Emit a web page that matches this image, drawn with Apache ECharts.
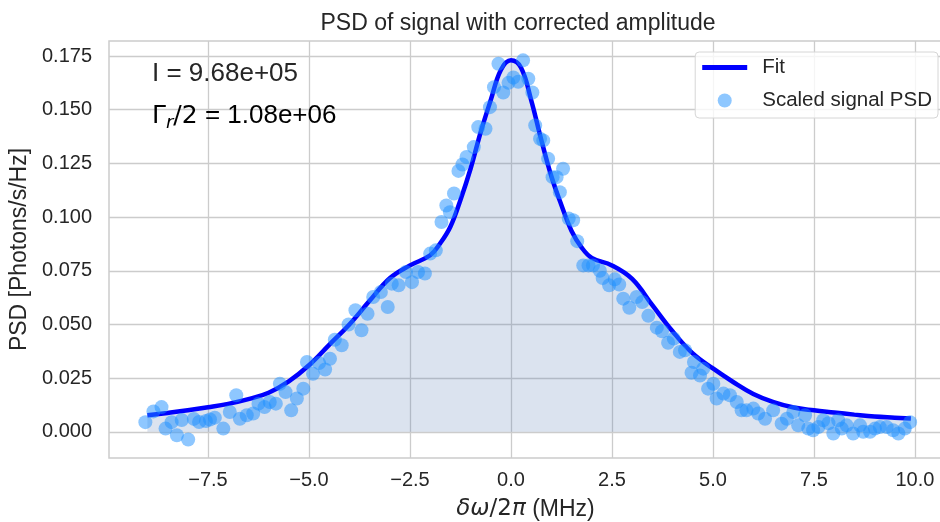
<!DOCTYPE html>
<html>
<head>
<meta charset="utf-8">
<script src="https://cdn.jsdelivr.net/npm/echarts@6/dist/echarts.min.js"></script>
<style>
html,body{margin:0;padding:0;background:#fff;}
#c{width:940px;height:522px;}
</style>
</head>
<body>
<div id="c"></div>
<script>
// ---- data ----
const xTicks = [-7.5, -5, -2.5, 0, 2.5, 5, 7.5, 10];
const xTickLabels = ['\u22127.5', '\u22125.0', '\u22122.5', '0.0', '2.5', '5.0', '7.5', '10.0'];
const yTicks = [0, 0.025, 0.05, 0.075, 0.1, 0.125, 0.15, 0.175];
const yTickLabels = ['0.000', '0.025', '0.050', '0.075', '0.100', '0.125', '0.150', '0.175'];

const fitX = [-9.0, -8.5, -8.0, -7.5, -7.0, -6.5, -6.0, -5.5, -5.0, -4.5, -4.0, -3.5, -3.0, -2.5, -2.0, -1.75, -1.5, -1.25, -1.0, -0.75, -0.5, -0.25, 0.0, 0.25, 0.5, 0.75, 1.0, 1.25, 1.5, 1.75, 2.0, 2.5, 3.0, 3.5, 4.0, 4.5, 5.0, 5.5, 6.0, 6.5, 7.0, 7.5, 8.0, 8.5, 9.0, 9.5, 9.9];
const fitY = [0.0077, 0.0088, 0.0100, 0.0114, 0.0130, 0.0152, 0.0182, 0.0235, 0.0310, 0.0405, 0.0500, 0.0610, 0.0715, 0.0775, 0.0822, 0.0878, 0.0955, 0.1080, 0.1225, 0.1395, 0.1545, 0.1685, 0.1730, 0.1695, 0.1545, 0.1360, 0.1190, 0.1055, 0.0935, 0.0858, 0.0810, 0.0775, 0.0712, 0.0590, 0.0468, 0.0365, 0.0295, 0.0232, 0.0176, 0.0138, 0.0113, 0.0100, 0.0090, 0.0080, 0.0071, 0.0066, 0.0062];

const psdX = [-9.05, -8.85, -8.65, -8.55, -8.40, -8.27, -8.15, -7.99, -7.85, -7.72, -7.55, -7.45, -7.33, -7.12, -6.96, -6.80, -6.71, -6.54, -6.38, -6.25, -6.10, -5.97, -5.82, -5.72, -5.58, -5.44, -5.30, -5.14, -5.05, -4.90, -4.75, -4.60, -4.48, -4.36, -4.19, -4.02, -3.85, -3.70, -3.55, -3.41, -3.22, -3.05, -2.95, -2.78, -2.60, -2.45, -2.30, -2.13, -2.00, -1.86, -1.72, -1.60, -1.51, -1.41, -1.30, -1.20, -1.10, -0.92, -0.81, -0.63, -0.52, -0.42, -0.31, -0.19, -0.06, 0.06, 0.18, 0.30, 0.43, 0.53, 0.60, 0.72, 0.80, 0.92, 1.03, 1.13, 1.21, 1.29, 1.43, 1.54, 1.64, 1.79, 1.92, 2.03, 2.20, 2.27, 2.43, 2.57, 2.68, 2.78, 2.93, 3.11, 3.25, 3.40, 3.61, 3.74, 3.89, 4.03, 4.18, 4.31, 4.47, 4.53, 4.68, 4.76, 4.88, 5.01, 5.09, 5.26, 5.42, 5.59, 5.71, 5.83, 6.00, 6.12, 6.29, 6.49, 6.70, 6.83, 6.99, 7.11, 7.28, 7.36, 7.48, 7.61, 7.73, 7.86, 7.98, 8.10, 8.19, 8.31, 8.47, 8.64, 8.72, 8.89, 9.01, 9.13, 9.30, 9.46, 9.59, 9.75, 9.88];
const psdY = [0.0045, 0.0095, 0.0115, 0.0015, 0.0045, -0.0016, 0.0055, -0.0036, 0.0060, 0.0046, 0.0050, 0.0057, 0.0066, 0.0015, 0.0092, 0.0170, 0.0061, 0.0077, 0.0085, 0.0131, 0.0115, 0.0139, 0.0131, 0.0224, 0.0185, 0.0100, 0.0155, 0.0201, 0.0325, 0.0270, 0.0320, 0.0290, 0.0340, 0.0429, 0.0403, 0.0500, 0.0566, 0.0473, 0.0550, 0.0628, 0.0651, 0.0581, 0.0690, 0.0682, 0.0744, 0.0697, 0.0744, 0.0737, 0.0830, 0.0845, 0.0977, 0.1054, 0.1023, 0.1110, 0.1215, 0.1245, 0.1280, 0.1326, 0.1419, 0.1411, 0.1512, 0.1605, 0.1714, 0.1580, 0.1625, 0.1650, 0.1630, 0.1730, 0.1644, 0.1580, 0.1427, 0.1365, 0.1357, 0.1272, 0.1186, 0.1186, 0.1116, 0.1225, 0.0993, 0.0985, 0.0888, 0.0775, 0.0775, 0.0775, 0.0750, 0.0716, 0.0682, 0.0710, 0.0686, 0.0620, 0.0578, 0.0628, 0.0604, 0.0540, 0.0485, 0.0468, 0.0415, 0.0434, 0.0372, 0.0380, 0.0275, 0.0325, 0.0262, 0.0294, 0.0201, 0.0224, 0.0155, 0.0178, 0.0170, 0.0139, 0.0100, 0.0100, 0.0108, 0.0085, 0.0061, 0.0100, 0.0038, 0.0061, 0.0092, 0.0030, 0.0077, 0.0015, 0.0007, 0.0022, 0.0054, 0.0040, -0.0008, 0.0054, 0.0015, 0.0030, -0.0008, 0.0030, 0.0000, 0.0000, 0.0015, 0.0022, 0.0022, 0.0007, -0.0008, 0.0015, 0.0045];

const titleText = 'PSD of signal with corrected amplitude';
const yName = 'PSD [Photons/s/Hz]';
const annotI = 'I = 9.68e+05';
const annotG = ' = 1.08e+06';

// ---- chart ----
const FONT = '"Liberation Sans", Arial, sans-serif';
const MATH = '"DejaVu Sans", sans-serif';
const TXT = '#262626';
const chart = echarts.init(document.getElementById('c'), null, {renderer: 'canvas'});

function lab(ticks, labels) {
  return function (v) {
    for (let i = 0; i < ticks.length; i++) if (Math.abs(ticks[i] - v) < 1e-9) return labels[i];
    return '';
  };
}

const fitData = fitX.map((x, i) => [x, fitY[i]]);
const psdData = psdX.map((x, i) => [x, psdY[i]]);

chart.setOption({
  animation: false,
  backgroundColor: '#ffffff',
  textStyle: {fontFamily: FONT, color: TXT},
  title: {
    text: titleText, left: 513, textAlign: 'center', top: 7,
    textStyle: {fontFamily: FONT, fontSize: 23, fontWeight: 'normal', color: TXT}
  },
  grid: {left: 109, right: -2, top: 41, bottom: 64, show: true, borderColor: '#cccccc', borderWidth: 1.5, containLabel: false, outerBoundsMode: 'none'},
  legend: {
    orient: 'vertical', right: 2, top: 52,
    itemWidth: 45, itemHeight: 14, itemGap: 12,
    padding: [5, 6, 7, 7],
    backgroundColor: 'rgba(255,255,255,0.8)', borderColor: '#d6d6d6', borderWidth: 1, borderRadius: 4,
    textStyle: {fontFamily: FONT, fontSize: 20.5, color: TXT, padding: [0, 0, 0, 10]},
    data: [
      {name: 'Fit', icon: 'path://M0,0 M45,14 M0,4.5 L45,4.5 L45,9.5 L0,9.5 Z'},
      {name: 'Scaled signal PSD', icon: 'circle'}
    ]
  },
  xAxis: {
    type: 'value', min: -9.95, max: 10.67,
    axisLine: {show: false}, axisTick: {show: false, customValues: xTicks},
    axisLabel: {customValues: xTicks, formatter: lab(xTicks, xTickLabels), fontFamily: FONT, fontSize: 20, color: TXT, margin: 12},
    splitLine: {show: true, lineStyle: {color: '#cccccc', width: 1.3}},
    name: '{i|\u03b4\u03c9}{m|/2}{i|\u03c0}{n| (MHz)}', nameLocation: 'middle', nameGap: 40,
    nameTextStyle: {
      fontFamily: FONT, fontSize: 23, color: TXT,
      rich: {
        i: {fontFamily: MATH, fontSize: 23, fontStyle: 'italic', color: TXT},
        m: {fontFamily: MATH, fontSize: 23, color: TXT},
        n: {fontFamily: FONT, fontSize: 23, color: TXT}
      }
    }
  },
  yAxis: {
    type: 'value', min: -0.0122, max: 0.182,
    axisLine: {show: false}, axisTick: {show: false, customValues: yTicks},
    axisLabel: {customValues: yTicks, formatter: lab(yTicks, yTickLabels), fontFamily: FONT, fontSize: 20, color: TXT, margin: 17},
    splitLine: {show: true, lineStyle: {color: '#cccccc', width: 1.3}},
    name: yName, nameLocation: 'middle', nameGap: 66, nameRotate: 90,
    nameTextStyle: {fontFamily: FONT, fontSize: 23, color: TXT}
  },
  graphic: [
    {type: 'text', left: 152, top: 61, z: 100, style: {text: annotI, font: '26px ' + FONT, fill: TXT}},
    {type: 'text', left: 152, top: 103, z: 100, style: {
      text: '{g|\u0393}{s|r}{g|/2}{a|' + annotG + '}',
      rich: {
        g: {fontFamily: MATH, fontSize: 25, lineHeight: 32, color: TXT},
        a: {fontFamily: FONT, fontSize: 26, lineHeight: 32, color: TXT},
        s: {fontFamily: MATH, fontSize: 18, fontStyle: 'italic', lineHeight: 18, verticalAlign: 'bottom', color: TXT}
      }
    }}
  ],
  series: [
    {
      name: 'Fit', type: 'line', data: fitData, smooth: 0.4, showSymbol: false, symbol: 'none',
      lineStyle: {color: '#0000ff', width: 4.5},
      itemStyle: {color: '#0000ff'},
      areaStyle: {color: 'rgba(76,114,176,0.2)', opacity: 1, origin: 0},
      z: 3
    },
    {
      name: 'Scaled signal PSD', type: 'scatter', data: psdData, symbol: 'circle', symbolSize: 14,
      itemStyle: {color: '#1e90ff', opacity: 0.5},
      z: 4
    }
  ]
});
</script>
</body>
</html>
